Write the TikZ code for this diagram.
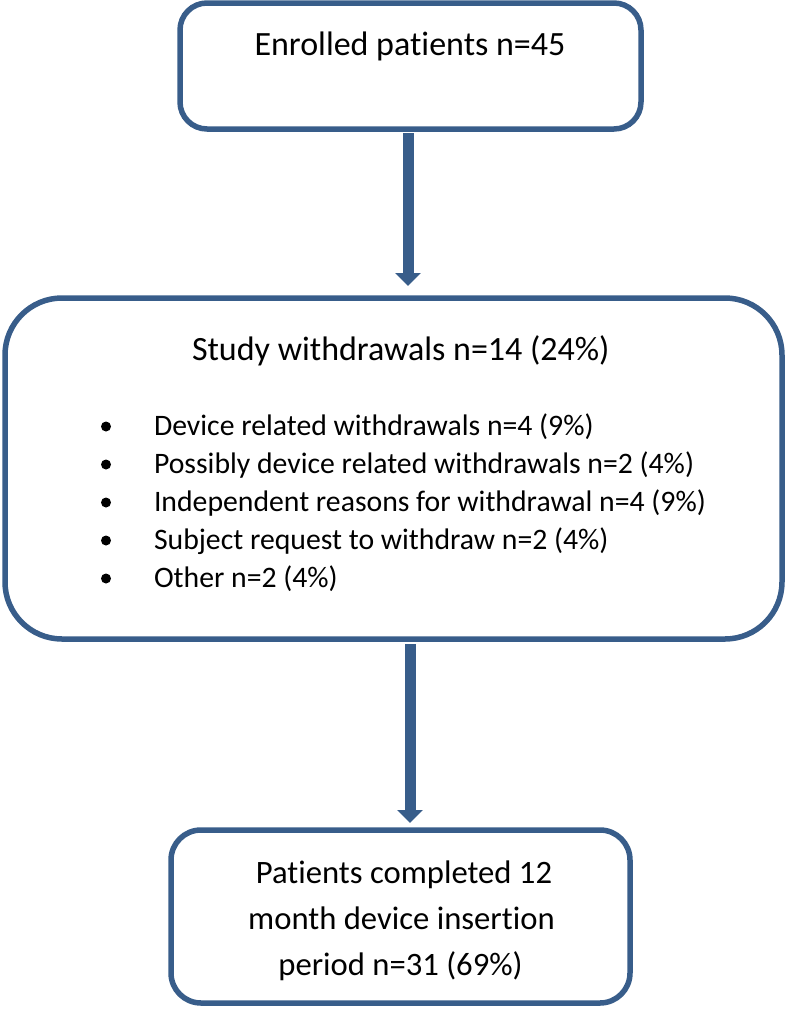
\documentclass[tikz,border=0pt]{standalone}
\usepackage{fontspec}
\setmainfont{Carlito}[Ligatures=NoCommon]
\usetikzlibrary{arrows.meta}
\definecolor{frame}{HTML}{385D8A}
\def\px{0.75pt}
\tikzset{
  flowbox/.style={draw=frame, line width=5.5*\px, fill=white, inner sep=0pt, outer sep=0pt},
  flowarrow/.style={draw=frame, line width=11*\px, -{Triangle[width=25*\px, length=13*\px]}},
  txt/.style={inner sep=0pt, outer sep=0pt, text=black},
  headtxt/.style={txt, font=\fontsize{25.5pt}{30pt}\selectfont},
  listtxt/.style={txt, font=\fontsize{22.3pt}{27pt}\selectfont},
  endtxt/.style={txt, font=\fontsize{24.5pt}{30pt}\selectfont},
  bul/.style={circle, fill=black, inner sep=0pt, minimum size=10*\px},
}
\begin{document}
\begin{tikzpicture}[x=\px, y=-\px]
\useasboundingbox (0,0) rectangle (788,1011);
% boxes
\node[flowbox, rounded corners=27*\px, minimum width=461*\px, minimum height=126*\px] (b1) at (410.5,66) {};
\node[flowbox, rounded corners=57*\px, minimum width=777*\px, minimum height=341*\px] (b2) at (393.5,468.5) {};
\node[flowbox, rounded corners=30*\px, minimum width=459*\px, minimum height=173*\px] (b3) at (400.5,916.5) {};
% texts
\node[headtxt, anchor=base] (t1) at (410,55) {Enrolled patients n=45};
\node[headtxt, anchor=base west] (t2) at (192,360) {Study withdrawals n=14 (24\%)};
\node[listtxt, anchor=base west] (l1) at (154,435) {Device related withdrawals n=4 (9\%)};
\node[listtxt, anchor=base west] (l2) at (154,473) {Possibly device related withdrawals n=2 (4\%)};
\node[listtxt, anchor=base west] (l3) at (154,511) {Independent reasons for withdrawal n=4 (9\%)};
\node[listtxt, anchor=base west] (l4) at (154,549) {Subject request to withdraw n=2 (4\%)};
\node[listtxt, anchor=base west] (l5) at (154,587) {Other n=2 (4\%)};
\node[bul] (d1) at (106,426.5) {};
\node[bul] (d2) at (106,464.5) {};
\node[bul] (d3) at (106,502.5) {};
\node[bul] (d4) at (106,540.5) {};
\node[bul] (d5) at (106,578.5) {};
\node[endtxt, anchor=base] (p1) at (404,883) {Patients completed 12};
\node[endtxt, anchor=base] (p2) at (401.5,929) {month device insertion};
\node[endtxt, anchor=base] (p3) at (400.5,975) {period n=31 (69\%)};
% arrows
\coordinate (ax1) at (408,0);
\coordinate (ax2) at (410,0);
\draw[flowarrow, shorten <=3.2pt, shorten >=9pt] (b1.south -| ax1) -- (b2.north -| ax1);
\draw[flowarrow, shorten <=3.75pt, shorten >=5.25pt] (b2.south -| ax2) -- (b3.north -| ax2);
\end{tikzpicture}
\end{document}
